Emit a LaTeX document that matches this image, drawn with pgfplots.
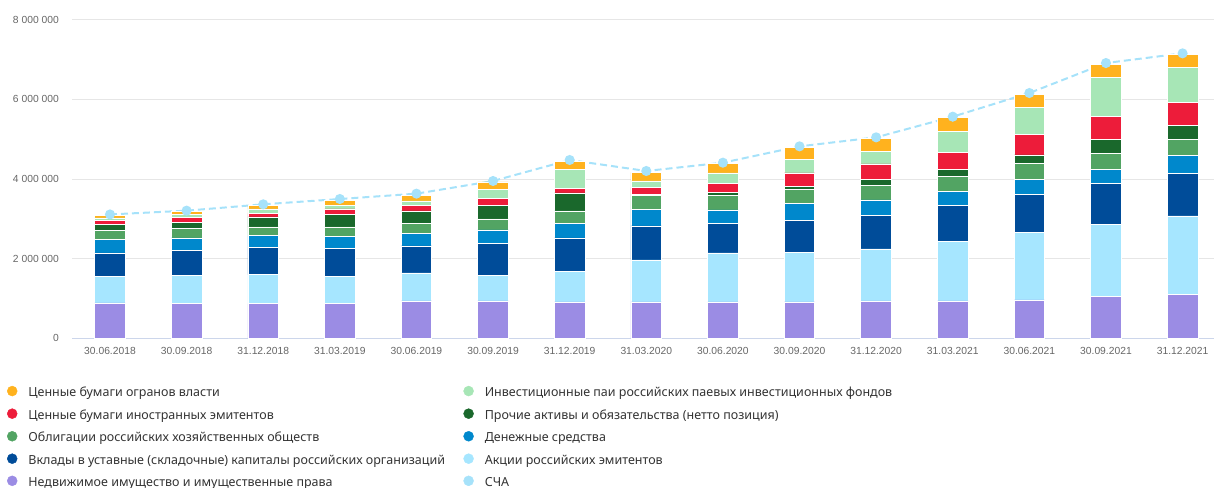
\documentclass[border=0pt]{standalone}
\usepackage{fontspec}
\setmainfont{Noto Sans}
\newfontfamily\tickfont{Liberation Sans}
\usepackage{pgfplots}
\usepackage{pgfplotstable}
\pgfplotsset{compat=1.18}

\definecolor{cNedv}{RGB}{155,140,228}
\definecolor{cAkcii}{RGB}{166,230,255}
\definecolor{cVklady}{RGB}{0,76,153}
\definecolor{cDen}{RGB}{0,136,204}
\definecolor{cObl}{RGB}{82,164,99}
\definecolor{cProch}{RGB}{26,104,44}
\definecolor{cInostr}{RGB}{237,28,58}
\definecolor{cPai}{RGB}{167,230,182}
\definecolor{cVlast}{RGB}{255,178,30}
\definecolor{cScha}{RGB}{166,226,250}
\definecolor{cGrid}{RGB}{230,230,230}
\definecolor{cAxis}{RGB}{204,214,235}
\definecolor{cTick}{RGB}{102,102,102}
\definecolor{cText}{RGB}{51,51,51}

% values in thousands
\pgfplotstableread{
x  nedv akcii vklady den obl proch inostr pai vlast scha
0  887  669   586    335 226 167   92     59  67    3110
1  870  712   627    310 234 159   117    92  59    3205
2  870  728   678    310 209 251   92     109 84    3364
3  870  686   695    310 234 318   134    100 117   3498
4  937  703   678    326 251 302   134    117 150   3632
5  937  636   804    343 276 351   159    226 193   3950
6  912  770   837    360 318 452   125    469 209   4477
7  912  1055  853    418 352 17    175    168 217   4201
8  912  1230  745    335 360 75    234    260 234   4410
9  912  1255  787    427 351 84    335    351 285   4820
10 937  1306  845    385 376 151   377    326 326   5046
11 937  1498  896    351 385 184   427    510 352   5565
12 962  1699  954    385 385 218   518    670 335   6159
13 1054 1816  1013   368 393 360   561    987 327   6912
14 1096 1975  1063   460 402 343   594    862 335   7155
}\data

\pgfplotsset{dotleg/.style={legend image code/.code={\fill[#1] (0bp,1.5bp) circle (5bp);}}}
\newcommand{\colone}[1]{\makebox[424bp][l]{#1}}

\begin{document}
\begin{tikzpicture}
\useasboundingbox (0,0) rectangle (1214bp,488bp);
\begin{axis}[
    at={(72bp,149.7bp)}, anchor=south west,
    scale only axis, width=1142bp, height=318.6bp,
    ybar stacked, bar width=0.4,
    xmin=-0.496, xmax=14.41, ymin=0, ymax=8000,
    axis x line*=bottom, axis y line*=left,
    x axis line style={draw=cAxis, line width=1bp},
    y axis line style={draw=none},
    major tick length=0pt,
    ymajorgrids, grid style={draw=cGrid, line width=1bp},
    xtick={0,...,14},
    xticklabels={30.06.2018,30.09.2018,31.12.2018,31.03.2019,30.06.2019,30.09.2019,31.12.2019,31.03.2020,30.06.2020,30.09.2020,31.12.2020,31.03.2021,30.06.2021,30.09.2021,31.12.2021},
    ytick={0,2000,4000,6000,8000},
    yticklabels={0,2 000 000,4 000 000,6 000 000,8 000 000},
    xticklabel style={font=\tickfont\fontsize{10.3bp}{12bp}\selectfont, text=cTick, inner sep=0pt, yshift=-9bp},
    yticklabel style={font=\tickfont\fontsize{10.3bp}{12bp}\selectfont, text=cTick, inner sep=0pt, xshift=-13bp},
    legend columns=2,
    legend cell align=left,
    legend style={at={(axis description cs:-0.0569,-0.1466)}, anchor=north west,
        draw=none, fill=none, inner sep=0pt, outer sep=0pt,
        column sep=9bp, row sep=7.5bp,
        font=\fontsize{12.5bp}{15bp}\selectfont, text=cText},
]
\addplot[fill=cNedv, draw=white, line width=0.8bp, forget plot] table[x=x, y=nedv] {\data};
\addplot[fill=cAkcii, draw=white, line width=0.8bp, forget plot] table[x=x, y=akcii] {\data};
\addplot[fill=cVklady, draw=white, line width=0.8bp, forget plot] table[x=x, y=vklady] {\data};
\addplot[fill=cDen, draw=white, line width=0.8bp, forget plot] table[x=x, y=den] {\data};
\addplot[fill=cObl, draw=white, line width=0.8bp, forget plot] table[x=x, y=obl] {\data};
\addplot[fill=cProch, draw=white, line width=0.8bp, forget plot] table[x=x, y=proch] {\data};
\addplot[fill=cInostr, draw=white, line width=0.8bp, forget plot] table[x=x, y=inostr] {\data};
\addplot[fill=cPai, draw=white, line width=0.8bp, forget plot] table[x=x, y=pai] {\data};
\addplot[fill=cVlast, draw=white, line width=0.8bp, forget plot] table[x=x, y=vlast] {\data};

% СЧА line
\addplot[stack plots=false, sharp plot, color=cScha, line width=2bp,
    dash pattern=on 7bp off 4bp, mark=*, mark size=4bp,
    mark options={solid, fill=cScha, draw=cScha}, forget plot]
    table[x=x, y=scha] {\data};

\addlegendimage{dotleg=cVlast}
\addlegendentry{\colone{Ценные бумаги огранов власти}}
\addlegendimage{dotleg=cPai}
\addlegendentry{Инвестиционные паи российских паевых инвестиционных фондов}
\addlegendimage{dotleg=cInostr}
\addlegendentry{\colone{Ценные бумаги иностранных эмитентов}}
\addlegendimage{dotleg=cProch}
\addlegendentry{Прочие активы и обязательства (нетто позиция)}
\addlegendimage{dotleg=cObl}
\addlegendentry{\colone{Облигации российских хозяйственных обществ}}
\addlegendimage{dotleg=cDen}
\addlegendentry{Денежные средства}
\addlegendimage{dotleg=cVklady}
\addlegendentry{\colone{Вклады в уставные (складочные) капиталы российских организаций}}
\addlegendimage{dotleg=cAkcii}
\addlegendentry{Акции российских эмитентов}
\addlegendimage{dotleg=cNedv}
\addlegendentry{\colone{Недвижимое имущество и имущественные права}}
\addlegendimage{dotleg=cScha}
\addlegendentry{СЧА}
\end{axis}
\end{tikzpicture}
\end{document}
